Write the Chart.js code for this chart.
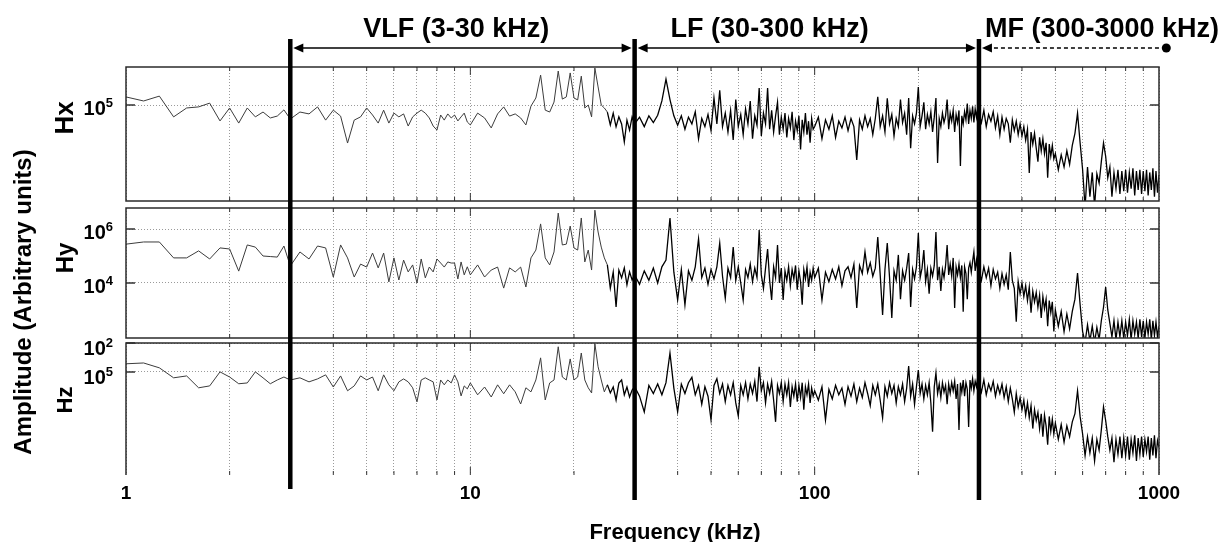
<!DOCTYPE html>
<html>
<head>
<meta charset="utf-8">
<script src="https://cdn.jsdelivr.net/npm/chart.js@4.4.1/dist/chart.umd.min.js"></script>
<style>
  html, body { margin: 0; padding: 0; background: #fff; }
  #wrap { position: relative; width: 1219px; height: 542px; overflow: hidden; }
  #wrap canvas { position: absolute; left: 0; top: 0; }
</style>
</head>
<body>
<div id="wrap">
  <canvas id="hxChart" width="1219" height="542"></canvas>
  <canvas id="hyChart" width="1219" height="542"></canvas>
  <canvas id="hzChart" width="1219" height="542"></canvas>
</div>
<script>
const FONT = '"Liberation Sans", Arial, sans-serif';

// frequency bins (kHz): [start, step, count]
const binSegments = [
  [1, 0.125, 16],
  [3, 0.2, 35],
  [10, 0.5, 40],
  [30, 1, 70],
  [100, 2.5, 80],
  [300, 5, 40],
  [500, 10, 51]
];
const freq = binSegments.flatMap(([start, step, n]) =>
  Array.from({ length: n }, (_, i) => +(start + i * step).toFixed(3)));

// grid lines / labels of the frequency axis
const xGridTicks = [1, 2, 3, 4, 5, 6, 7, 8, 9, 10, 20, 30, 40, 50, 60, 70, 80, 90,
  100, 200, 300, 400, 500, 600, 700, 800, 900, 1000];
const xLabelValues = [1, 10, 100, 1000];
const xLabelText = ['1', '10', '100', '1000'];

// band edges and names
const bandEdges = [3, 30, 300];
const bandLabels = ['VLF (3-30 kHz)', 'LF (30-300 kHz)', 'MF (300-3000 kHz)'];

// amplitudes as log10 (arbitrary units)
const hxValues = [
  5.30, 5.15, 5.33, 4.56, 4.89, 4.93, 5.07, 4.41, 4.89, 4.33, 4.89, 4.56, 4.74, 4.52, 4.59, 4.82,
  4.48, 4.74, 4.67, 4.93, 4.44, 4.81, 4.59, 3.59, 4.44, 4.56,
  4.89, 4.63, 4.33, 4.81, 4.33, 4.70, 4.56, 4.67, 4.22, 4.56,
  4.70, 4.81, 4.70, 4.52, 4.22, 4.07, 4.63, 4.44, 4.67, 4.52,
  4.63, 4.41, 4.56, 4.70, 4.37,
  4.26, 4.70, 4.52, 4.15, 4.67, 4.93, 4.59, 4.67, 4.52, 4.26,
  4.96, 5.26, 6.11, 4.81, 4.74, 5.11, 6.26, 5.22, 5.30, 6.19,
  5.26, 5.19, 6.07, 4.89, 5.00, 4.56, 6.37, 5.67, 5.00, 4.89,
  4.74, 4.26, 4.70, 4.19, 4.56, 4.30, 3.63, 4.44, 4.07, 4.56,
  4.30, 4.55, 4.20, 4.60, 4.35, 4.62, 5.15, 5.96, 5.20, 4.60,
  4.25, 4.60, 4.10, 4.55, 4.30, 4.75, 3.75, 4.50, 4.20, 4.65,
  4.05, 5.26, 4.30, 5.55, 4.20, 4.70, 4.00, 4.80, 3.70, 5.20,
  4.20, 4.65, 3.90, 4.85, 4.30, 5.15, 3.75, 4.60, 4.25, 5.63,
  3.85, 4.70, 4.30, 5.63, 4.10, 4.80, 4.00, 4.60, 5.10, 3.90,
  4.55, 4.10, 4.70, 3.80, 4.50, 4.15, 4.75, 3.70, 4.40, 4.05,
  4.60, 3.35, 4.45, 4.00, 4.70, 3.90, 4.40, 3.60, 4.50, 4.10,
  4.20, 4.55, 3.75, 4.45, 4.10, 4.60, 3.80, 4.40, 4.15, 4.55,
  4.05, 4.50, 4.20, 2.96, 4.45, 4.10, 4.60, 4.20, 4.50, 3.90,
  4.50, 5.30, 4.20, 4.60, 4.00, 5.25, 4.30, 4.65, 3.85, 4.50,
  4.20, 5.20, 4.35, 4.70, 3.90, 5.26, 3.40, 4.60, 4.30, 4.70,
  5.67, 4.20, 4.60, 5.10, 4.10, 4.65, 4.30, 4.75, 4.00, 4.55,
  5.26, 2.85, 4.50, 4.20, 4.70, 4.35, 4.60, 5.20, 4.10, 4.70,
  4.40, 4.80, 4.00, 4.65, 4.35, 4.80, 2.74, 4.60, 4.30, 4.75,
  4.45, 5.05, 4.30, 4.80, 4.50, 4.95, 4.35, 4.85, 4.55, 4.90,
  4.70, 4.35, 4.80, 4.20, 4.65, 4.40, 4.75, 4.15, 4.60, 3.90,
  4.55, 4.10, 4.50, 4.30, 3.60, 4.45, 4.05, 4.40, 3.90, 4.30,
  3.85, 4.20, 3.70, 4.10, 2.48, 4.00, 3.55, 3.95, 3.40, 2.90,
  3.80, 3.30, 3.75, 3.20, 3.60, 2.30, 3.55, 3.10, 3.50, 3.00,
  3.20, 2.60, 3.15, 2.70, 3.30, 2.80, 3.50, 3.95, 4.70, 3.60,
  2.60, 1.20, 2.70, 1.60, 2.50, 1.25, 2.45, 2.10, 2.90, 3.59,
  3.10, 2.30, 2.70, 1.60, 2.50, 1.90, 2.60, 1.70, 2.55, 1.80,
  2.60, 1.75, 2.50, 1.90, 2.65, 1.65, 2.55, 1.85, 2.60, 1.70,
  2.55, 1.80, 2.60, 1.65, 2.50, 1.85, 2.65, 1.60, 2.55, 1.75,
  2.40
];

const hyValues = [
  5.44, 5.52, 5.52, 4.93, 4.93, 5.19, 4.89, 5.30, 5.26, 4.44, 5.41, 5.33, 5.00, 4.98, 4.96, 5.37,
  4.63, 5.15, 4.89, 5.37, 5.30, 4.22, 5.41, 4.93, 4.22, 4.70,
  4.59, 5.11, 4.56, 5.11, 4.04, 4.93, 4.11, 4.85, 4.41, 4.67,
  4.00, 4.89, 4.19, 4.59, 4.41, 4.89, 4.74, 4.59, 4.78, 4.74,
  4.74, 4.15, 4.78, 4.30, 4.60,
  4.30, 4.67, 4.22, 4.48, 4.59, 3.81, 4.56, 4.41, 4.59, 3.85,
  4.93, 5.22, 6.19, 4.93, 4.67, 5.15, 6.59, 5.41, 5.44, 6.11,
  5.30, 5.22, 6.41, 4.78, 5.22, 4.48, 6.70, 5.89, 5.33, 4.93,
  4.67, 3.81, 4.41, 3.11, 4.48, 4.19, 4.56, 3.93, 4.41, 4.11,
  4.30, 3.95, 4.45, 4.10, 4.55, 4.00, 4.60, 4.85, 6.41, 4.40,
  3.37, 4.50, 3.19, 4.45, 4.10, 4.60, 5.63, 4.20, 4.55, 3.95,
  4.50, 4.15, 4.60, 5.48, 4.25, 3.44, 4.55, 4.20, 5.33, 4.10,
  4.60, 4.00, 3.37, 4.50, 4.20, 4.70, 4.05, 4.55, 4.20, 5.96,
  4.30, 3.80, 4.55, 5.26, 4.10, 3.37, 4.60, 4.20, 5.41, 4.00,
  4.55, 3.37, 4.45, 4.10, 4.60, 3.90, 4.50, 4.15, 4.65, 3.75,
  4.45, 4.05, 3.19, 4.50, 4.15, 4.60, 3.85, 4.40, 4.10, 4.55,
  4.20, 4.55, 3.37, 4.40, 4.05, 4.50, 4.15, 4.60, 3.90, 4.45,
  4.60, 4.20, 4.70, 3.07, 4.65, 4.35, 5.15, 4.40, 4.75, 4.25,
  4.55, 5.70, 4.30, 2.81, 4.50, 5.48, 4.20, 2.70, 4.45, 4.10,
  5.04, 3.40, 4.45, 4.10, 4.55, 5.11, 3.11, 4.50, 4.15, 4.60,
  5.85, 4.20, 4.55, 5.22, 4.05, 4.50, 3.60, 4.55, 4.25, 4.65,
  5.89, 4.10, 4.60, 3.70, 4.50, 4.20, 4.65, 5.41, 4.30, 4.70,
  4.25, 4.93, 3.07, 4.60, 4.30, 4.70, 4.20, 4.65, 2.93, 4.60,
  4.35, 3.40, 4.55, 4.75, 4.40, 4.80, 5.15, 4.45, 4.85, 4.50,
  4.45, 4.10, 4.60, 4.20, 4.55, 3.90, 4.50, 4.15, 4.40, 3.80,
  4.35, 3.95, 4.30, 3.75, 5.15, 4.10, 3.80, 2.56, 4.05, 3.60,
  4.00, 3.50, 3.90, 3.35, 3.85, 2.90, 3.70, 3.30, 3.65, 3.10,
  3.55, 2.70, 3.50, 3.05, 3.40, 2.40, 3.35, 2.90, 3.30, 2.20,
  3.00, 2.40, 2.95, 2.20, 2.85, 2.30, 2.95, 3.40, 4.37, 3.20,
  2.20, 1.80, 2.45, 1.85, 2.40, 1.80, 2.35, 1.90, 2.60, 3.10,
  3.85, 3.00, 2.50, 2.00, 2.60, 1.90, 2.55, 2.00, 2.60, 1.95,
  2.55, 2.05, 2.65, 1.90, 2.60, 2.10, 2.55, 1.95, 2.65, 2.00,
  2.60, 1.95, 2.55, 2.10, 2.65, 1.90, 2.60, 2.05, 2.55, 2.00,
  2.40
];

const hzValues = [
  5.30, 5.33, 5.15, 4.78, 4.85, 4.41, 4.48, 5.00, 4.81, 4.56, 4.59, 5.00, 4.78, 4.56, 4.70, 4.81,
  4.70, 4.78, 4.63, 4.74, 4.89, 4.44, 4.85, 4.30, 4.48, 4.85,
  4.70, 4.81, 4.30, 4.89, 4.52, 4.30, 4.63, 4.74, 4.63, 4.41,
  3.89, 4.70, 4.78, 4.70, 4.63, 3.96, 4.70, 4.52, 4.70, 4.59,
  4.89, 4.63, 4.11, 4.48, 4.37,
  4.59, 4.15, 4.44, 4.07, 4.52, 4.19, 4.52, 4.26, 3.81, 4.41,
  4.26, 4.70, 5.52, 3.96, 4.59, 4.70, 5.93, 4.81, 4.70, 5.48,
  4.70, 4.81, 5.70, 4.70, 4.41, 4.22, 6.04, 5.19, 4.70, 4.26,
  4.52, 4.22, 4.44, 3.96, 4.59, 4.70, 4.15, 4.44, 4.07, 4.33,
  4.45, 4.10, 3.52, 4.50, 4.20, 4.55, 4.15, 4.60, 5.70, 4.40,
  3.52, 4.55, 4.20, 4.60, 4.80, 4.15, 4.50, 3.80, 4.45, 4.10,
  3.22, 4.50, 4.75, 4.20, 4.55, 3.90, 4.50, 4.15, 4.60, 3.85,
  3.37, 4.50, 4.15, 4.60, 4.00, 4.55, 4.20, 4.65, 3.90, 5.19,
  4.30, 4.60, 3.85, 4.55, 4.20, 4.65, 3.95, 3.15, 4.50, 4.20,
  4.60, 3.90, 4.55, 4.15, 4.60, 3.70, 4.45, 4.10, 4.55, 3.90,
  4.50, 4.05, 4.60, 3.60, 4.45, 4.15, 4.55, 3.85, 4.40, 4.10,
  4.30, 3.95, 4.45, 3.22, 4.35, 4.00, 4.50, 4.15, 4.40, 3.80,
  4.45, 4.10, 4.55, 3.90, 4.40, 4.05, 4.60, 4.20, 3.75, 4.50,
  4.15, 4.55, 3.95, 3.30, 4.45, 4.10, 4.60, 4.20, 4.50, 3.85,
  4.45, 4.15, 4.55, 3.90, 4.40, 5.22, 4.10, 4.55, 3.80, 4.45,
  5.07, 4.20, 4.55, 4.00, 4.50, 4.15, 4.60, 3.85, 2.78, 4.45,
  4.96, 4.20, 4.55, 4.05, 4.60, 4.25, 4.50, 3.80, 4.55, 4.20,
  4.60, 4.30, 4.65, 4.00, 4.55, 2.85, 4.60, 4.25, 4.70, 4.10,
  4.60, 4.35, 2.96, 4.70, 4.40, 4.75, 4.30, 4.65, 4.45, 4.80,
  4.60, 4.25, 4.70, 4.15, 4.55, 4.30, 4.65, 4.10, 4.50, 4.20,
  4.55, 4.05, 4.45, 3.90, 4.40, 4.00, 3.50, 4.20, 3.70, 4.05,
  3.60, 3.95, 3.40, 3.85, 3.30, 3.75, 2.90, 3.60, 3.20, 3.50,
  2.90, 3.45, 2.60, 3.40, 3.00, 2.30, 3.35, 2.80, 3.25, 2.70,
  3.10, 2.50, 3.05, 2.40, 3.00, 2.60, 3.15, 3.45, 4.30, 3.35,
  2.70, 1.90, 2.60, 2.00, 2.55, 1.70, 2.50, 2.10, 2.85, 3.70,
  3.20, 2.60, 2.10, 2.55, 1.65, 2.50, 1.95, 2.60, 1.80, 2.55,
  1.90, 2.60, 1.75, 2.50, 2.00, 2.65, 1.70, 2.55, 1.95, 2.60,
  1.85, 2.50, 2.05, 2.60, 1.75, 2.55, 1.90, 2.65, 1.80, 2.45,
  2.20
];

// y axis ranges (log10) and labelled decades
const hxRange = [1.44, 6.41];
const hyRange = [1.96, 6.78];
const hzRange = [1.18, 6.07];
const hxTicks = [5];
const hxTickExps = ['5'];
const hyTicks = [6, 4];
const hyTickExps = ['6', '4'];
const hzTicks = [6.07, 5];
const hzTickExps = ['2', '5'];

function drawHead(ctx, tipX, y, dir) {
  ctx.beginPath();
  ctx.moveTo(tipX, y);
  ctx.lineTo(tipX - dir * 10, y - 4.5);
  ctx.lineTo(tipX - dir * 10, y + 4.5);
  ctx.closePath();
  ctx.fill();
}

// thick band edges, arrows and titles, drawn on the top canvas
const bandOverlay = {
  id: 'bandOverlay',
  afterDraw(chart) {
    const { ctx } = chart;
    const xs = chart.scales.x;
    const edges = bandEdges.map(f => xs.getPixelForValue(f));
    const lineBottoms = [489, 500, 500];
    const ay = 48;
    ctx.save();
    ctx.strokeStyle = '#000';
    ctx.fillStyle = '#000';
    ctx.lineWidth = 4.5;
    edges.forEach((px, i) => {
      ctx.beginPath();
      ctx.moveTo(px, 39);
      ctx.lineTo(px, lineBottoms[i]);
      ctx.stroke();
    });

    ctx.lineWidth = 1.5;
    // VLF and LF: double-headed
    [[edges[0], edges[1]], [edges[1], edges[2]]].forEach(([a, b]) => {
      const l = a + 3, r = b - 3;
      ctx.beginPath();
      ctx.moveTo(l + 5, ay);
      ctx.lineTo(r - 5, ay);
      ctx.stroke();
      drawHead(ctx, l, ay, -1);
      drawHead(ctx, r, ay, 1);
    });
    // MF: dashed towards a dot
    const mfEnd = xs.getPixelForValue(1050);
    ctx.setLineDash([4, 3]);
    ctx.beginPath();
    ctx.moveTo(edges[2] + 8, ay);
    ctx.lineTo(mfEnd, ay);
    ctx.stroke();
    ctx.setLineDash([]);
    drawHead(ctx, edges[2] + 3, ay, -1);
    ctx.beginPath();
    ctx.arc(mfEnd, ay, 4.5, 0, Math.PI * 2);
    ctx.fill();

    // band names
    const nameOffsets = [73, 36, 6];
    ctx.font = 'bold 27px ' + FONT;
    ctx.textAlign = 'left';
    ctx.textBaseline = 'alphabetic';
    bandLabels.forEach((t, i) => ctx.fillText(t, edges[i] + nameOffsets[i], 37));

    // frequency labels
    ctx.font = 'bold 19px ' + FONT;
    ctx.textAlign = 'center';
    ctx.textBaseline = 'middle';
    xLabelValues.forEach((v, i) => ctx.fillText(xLabelText[i], xs.getPixelForValue(v), 494));

    // axis titles
    ctx.font = 'bold 22px ' + FONT;
    ctx.textBaseline = 'alphabetic';
    ctx.fillText('Frequency (kHz)', 675, 539);
    ctx.save();
    ctx.translate(31, 302);
    ctx.rotate(-Math.PI / 2);
    ctx.font = 'bold 24px ' + FONT;
    ctx.fillText('Amplitude (Arbitrary units)', 0, 0);
    ctx.restore();
    ctx.restore();
  }
};

function makePanel(cfg) {
  const points = freq.map((f, i) => ({ x: f, y: cfg.values[i] }));
  const decor = {
    id: 'decor' + cfg.name,
    afterDraw(chart) {
      const { ctx, chartArea: a } = chart;
      const xs = chart.scales.x, ys = chart.scales.y;
      ctx.save();
      ctx.strokeStyle = '#333';
      ctx.lineWidth = 1;
      xGridTicks.forEach(v => {
        if (v === 1 || v === 1000) return;
        const px = xs.getPixelForValue(v);
        const len = xLabelValues.includes(v) ? 8 : 4;
        ctx.beginPath();
        ctx.moveTo(px, a.top);
        ctx.lineTo(px, a.top + len);
        ctx.moveTo(px, a.bottom);
        ctx.lineTo(px, a.bottom - len);
        ctx.stroke();
      });
      ctx.lineWidth = 1.5;
      cfg.ticks.forEach(v => {
        const py = ys.getPixelForValue(v);
        ctx.beginPath();
        ctx.moveTo(a.left, py);
        ctx.lineTo(a.left + 9, py);
        ctx.moveTo(a.right - 9, py);
        ctx.lineTo(a.right, py);
        ctx.stroke();
      });
      // frame
      ctx.strokeStyle = '#2b2b2b';
      ctx.beginPath();
      if (cfg.openBottom) {
        ctx.moveTo(a.left, a.bottom);
        ctx.lineTo(a.left, a.top);
        ctx.lineTo(a.right, a.top);
        ctx.lineTo(a.right, a.bottom);
      } else {
        ctx.rect(a.left, a.top, a.right - a.left, a.bottom - a.top);
      }
      ctx.stroke();

      // decade labels 10^n
      ctx.fillStyle = '#000';
      ctx.textAlign = 'right';
      ctx.textBaseline = 'alphabetic';
      cfg.ticks.forEach((v, i) => {
        const py = ys.getPixelForValue(v) + cfg.labelShift;
        const right = a.left - 13;
        ctx.font = 'bold 13px ' + FONT;
        const ew = ctx.measureText(cfg.exps[i]).width;
        ctx.fillText(cfg.exps[i], right, py + 2);
        ctx.font = 'bold 20px ' + FONT;
        ctx.fillText('10', right - ew, py + 10);
      });

      // panel name
      ctx.save();
      ctx.translate(66, cfg.nameY);
      ctx.rotate(-Math.PI / 2);
      ctx.font = 'bold ' + cfg.nameSize + 'px ' + FONT;
      ctx.textAlign = 'center';
      ctx.textBaseline = 'middle';
      ctx.fillText(cfg.name, 0, 0);
      ctx.restore();

      if (cfg.values.length !== freq.length) {
        ctx.fillStyle = 'red';
        ctx.font = '14px ' + FONT;
        ctx.textAlign = 'left';
        ctx.fillText(cfg.name + ': ' + cfg.values.length + ' vs ' + freq.length, a.left + 20, a.top + 20);
      }
      ctx.restore();
    }
  };

  const gridStyle = { color: '#9a9a9a', lineWidth: 1, drawTicks: false };
  // the dense part of the spectrum reads darker and heavier than the sparse start
  const dense = c => c.p0.parsed.x >= 25;
  return new Chart(document.getElementById(cfg.canvas), {
    type: 'line',
    data: {
      datasets: [{
        data: points,
        borderColor: '#161616',
        borderWidth: 1,
        pointRadius: 0,
        tension: 0,
        clip: 0,
        segment: {
          borderColor: c => dense(c) ? '#000' : '#3c3c3c',
          borderWidth: c => dense(c) ? 1.3 : 1
        }
      }]
    },
    options: {
      responsive: false,
      animation: false,
      devicePixelRatio: 1,
      events: [],
      layout: { padding: { left: 126, right: 60, top: cfg.top, bottom: 542 - cfg.bottom } },
      plugins: { legend: { display: false }, tooltip: { enabled: false } },
      scales: {
        x: {
          type: 'logarithmic',
          min: 1,
          max: 1000,
          afterBuildTicks: s => { s.ticks = xGridTicks.map(v => ({ value: v })); },
          afterFit: s => { s.height = 0; },
          ticks: { display: false },
          grid: gridStyle,
          border: { display: false, dash: [1, 2] }
        },
        y: {
          type: 'linear',
          min: cfg.range[0],
          max: cfg.range[1],
          afterBuildTicks: s => { s.ticks = cfg.ticks.map(v => ({ value: v })); },
          afterFit: s => { s.width = 0; },
          ticks: { display: false },
          grid: gridStyle,
          border: { display: false, dash: [1, 2] }
        }
      }
    },
    plugins: cfg.overlay ? [decor, bandOverlay] : [decor]
  });
}

makePanel({ canvas: 'hxChart', name: 'Hx', values: hxValues, range: hxRange, ticks: hxTicks, exps: hxTickExps,
  top: 67, bottom: 201, nameY: 118, nameSize: 26, labelShift: 0 });
makePanel({ canvas: 'hyChart', name: 'Hy', values: hyValues, range: hyRange, ticks: hyTicks, exps: hyTickExps,
  top: 208, bottom: 338, nameY: 258, nameSize: 24, labelShift: 0 });
makePanel({ canvas: 'hzChart', name: 'Hz', values: hzValues, range: hzRange, ticks: hzTicks, exps: hzTickExps,
  top: 343, bottom: 475, nameY: 400, nameSize: 22, labelShift: 2, openBottom: true, overlay: true });
</script>
</body>
</html>
